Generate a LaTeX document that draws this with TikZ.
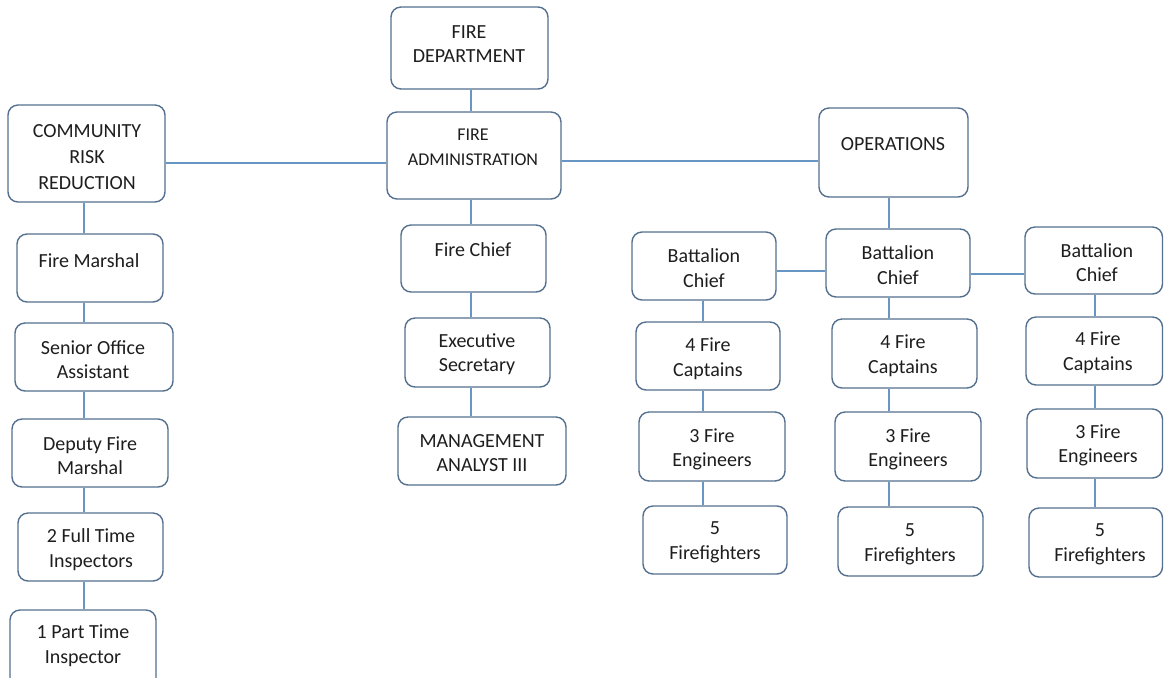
\documentclass[tikz,border=0pt]{standalone}
\usepackage{fontspec}
\setmainfont{Carlito}
\usetikzlibrary{fit,calc}
\definecolor{boxline}{RGB}{84,112,142}
\definecolor{conline}{RGB}{104,150,196}
\definecolor{txtcol}{RGB}{30,30,30}
\tikzset{
  orgbox/.style={draw=boxline, line width=0.7pt, rounded corners=5pt, inner sep=0pt, fill=white},
  orgtxt/.style={align=center, inner sep=0pt, text=txtcol, font=\fontsize{10}{12.3}\selectfont},
  smalltxt/.style={orgtxt, font=\fontsize{9}{12.5}\selectfont},
  conn/.style={draw=conline, line width=0.7pt}
}
\begin{document}
\begin{tikzpicture}[x=0.5pt,y=-0.5pt]
\useasboundingbox (0,0) rectangle (1164,677);
\clip (0,0) rectangle (1164,677);
% ---------- boxes ----------
% centre column
\node[orgbox, fit={(391,7) (548,89)}] (fd) {};
\node[orgbox, fit={(387,112) (561,199)}] (fa) {};
\node[orgbox, fit={(401,225) (546,292)}] (fc) {};
\node[orgbox, fit={(405,318) (550,387)}] (es) {};
\node[orgbox, fit={(398,417) (566,485)}] (ma) {};
% left column
\node[orgbox, fit={(8,105) (165,202)}] (crr) {};
\node[orgbox, fit={(17,234) (163,302)}] (fm) {};
\node[orgbox, fit={(15,323) (173,391)}] (soa) {};
\node[orgbox, fit={(12,419) (168,487)}] (dfm) {};
\node[orgbox, fit={(18,513) (163,581)}] (ft) {};
\node[orgbox, fit={(10,610) (156,690)}] (pt) {};
% operations
\node[orgbox, fit={(819,108) (968,197)}] (ops) {};
\node[orgbox, fit={(632,232) (776,300)}] (bcl) {};
\node[orgbox, fit={(826,229) (970,297)}] (bcm) {};
\node[orgbox, fit={(1025,227) (1162.5,294)}] (bcr) {};
\node[orgbox, fit={(636,322) (780,390)}] (fcl) {};
\node[orgbox, fit={(832,319) (977,388)}] (fcm) {};
\node[orgbox, fit={(1026,317) (1162.5,385)}] (fcr) {};
\node[orgbox, fit={(639,412) (785,481)}] (fel) {};
\node[orgbox, fit={(835,412) (981,481)}] (fem) {};
\node[orgbox, fit={(1027,409) (1162.5,478)}] (fer) {};
\node[orgbox, fit={(643,506) (787,574)}] (ffl) {};
\node[orgbox, fit={(838,507) (983,576)}] (ffm) {};
\node[orgbox, fit={(1029,508) (1162.5,577)}] (ffr) {};
% ---------- texts ----------
\node[orgtxt] (fd-t) at (469,44) {FIRE\\DEPARTMENT};
\node[smalltxt] (fa-t) at (473,147.5) {FIRE\\ADMINISTRATION};
\node[orgtxt] (fc-t) at (473,250) {Fire Chief};
\node[orgtxt] (es-t) at (477,354) {Executive\\Secretary};
\node[orgtxt] (ma-t) at (482,453) {MANAGEMENT\\ANALYST III};
\node[orgtxt, font=\fontsize{10}{13}\selectfont] (crr-t) at (87,157) {COMMUNITY\\RISK\\REDUCTION};
\node[orgtxt] (fm-t) at (89,261) {Fire Marshal};
\node[orgtxt] (soa-t) at (93,359.5) {Senior Office\\Assistant};
\node[orgtxt] (dfm-t) at (90,455.5) {Deputy Fire\\Marshal};
\node[orgtxt] (ft-t) at (91,549.5) {2 Full Time\\Inspectors};
\node[orgtxt] (pt-t) at (83,646) {1 Part Time\\Inspector};
\node[orgtxt] (ops-t) at (893,144) {OPERATIONS};
\node[orgtxt] (bcl-t) at (704,268) {Battalion\\Chief};
\node[orgtxt] (bcm-t) at (898,265) {Battalion\\Chief};
\node[orgtxt] (bcr-t) at (1097,262.5) {Battalion\\Chief};
\node[orgtxt] (fcl-t) at (708,358.5) {4 Fire\\Captains};
\node[orgtxt] (fcm-t) at (903,355.5) {4 Fire\\Captains};
\node[orgtxt] (fcr-t) at (1098,352.5) {4 Fire\\Captains};
\node[orgtxt] (fel-t) at (712,449.5) {3 Fire\\Engineers};
\node[orgtxt] (fem-t) at (908,449.5) {3 Fire\\Engineers};
\node[orgtxt] (fer-t) at (1098,445.5) {3 Fire\\Engineers};
\node[orgtxt] (ffl-t) at (715,542) {5\\Firefighters};
\node[orgtxt] (ffm-t) at (910,544.5) {5\\Firefighters};
\node[orgtxt] (ffr-t) at (1100,544.5) {5\\Firefighters};
% ---------- connector columns ----------
\coordinate (xc) at (471,0);
\coordinate (xl) at (84,0);
\coordinate (xo) at (889,0);
\coordinate (xbl) at (703,0);
\coordinate (xbr) at (1095,0);
\coordinate (yl) at (0,163);
\coordinate (yr) at (0,161);
\coordinate (yb1) at (0,271);
\coordinate (yb2) at (0,274);
% ---------- connectors ----------
\draw[conn] (fd.south -| xc) -- (fa.north -| xc);
\draw[conn] (fa.south -| xc) -- (fc.north -| xc);
\draw[conn] (fc.south -| xc) -- (es.north -| xc);
\draw[conn] (es.south -| xc) -- (ma.north -| xc);
\draw[conn] (crr.east |- yl) -- (fa.west |- yl);
\draw[conn] (fa.east |- yr) -- (ops.west |- yr);
\draw[conn] (crr.south -| xl) -- (fm.north -| xl);
\draw[conn] (fm.south -| xl) -- (soa.north -| xl);
\draw[conn] (soa.south -| xl) -- (dfm.north -| xl);
\draw[conn] (dfm.south -| xl) -- (ft.north -| xl);
\draw[conn] (ft.south -| xl) -- (pt.north -| xl);
\draw[conn] (ops.south -| xo) -- (bcm.north -| xo);
\draw[conn] (bcl.east |- yb1) -- (bcm.west |- yb1);
\draw[conn] (bcm.east |- yb2) -- (bcr.west |- yb2);
\draw[conn] (bcl.south -| xbl) -- (fcl.north -| xbl);
\draw[conn] (fcl.south -| xbl) -- (fel.north -| xbl);
\draw[conn] (fel.south -| xbl) -- (ffl.north -| xbl);
\draw[conn] (bcm.south -| xo) -- (fcm.north -| xo);
\draw[conn] (fcm.south -| xo) -- (fem.north -| xo);
\draw[conn] (fem.south -| xo) -- (ffm.north -| xo);
\draw[conn] (bcr.south -| xbr) -- (fcr.north -| xbr);
\draw[conn] (fcr.south -| xbr) -- (fer.north -| xbr);
\draw[conn] (fer.south -| xbr) -- (ffr.north -| xbr);
\end{tikzpicture}
\end{document}
